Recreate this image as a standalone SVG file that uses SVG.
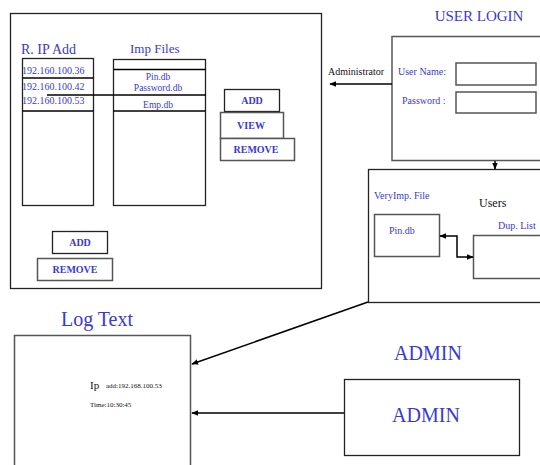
<svg xmlns="http://www.w3.org/2000/svg" width="540" height="465" viewBox="0 0 540 465">
<defs>
<marker id="ah" viewBox="0 0 10 10" refX="9" refY="5" markerWidth="7" markerHeight="7" orient="auto-start-reverse" markerUnits="userSpaceOnUse">
<path d="M0,1 L10,5 L0,9 z" fill="#000"/>
</marker>
<style>
.box{fill:#fff;stroke:#222;stroke-width:1.3}
.gbox{fill:#fff;stroke:#555;stroke-width:1.5}
.b{font-family:"Liberation Serif",serif;fill:#3a3ad0}
.k{font-family:"Liberation Serif",serif;fill:#111}
.btn{font-family:"Liberation Serif",serif;fill:#3a3ad0;font-weight:bold;font-size:10px;text-anchor:middle}
.ln{stroke:#000;stroke-width:1.5;fill:none}
</style>
</defs>
<rect width="540" height="465" fill="#fff"/>

<g id="main">
<rect class="box" x="10.5" y="13.5" width="311" height="275"/>
<text class="b" x="21" y="54" font-size="14">R. IP Add</text>
<text class="b" x="130" y="53" font-size="13">Imp Files</text>
</g>

<g id="ip-list">
<rect class="box" x="22.5" y="58.5" width="71" height="147"/>
<line class="ln" x1="22.5" y1="78" x2="93.5" y2="78" stroke-width="1.2"/>
<line class="ln" x1="22.5" y1="111" x2="93.5" y2="111" stroke-width="1.2"/>
<text class="b" x="22" y="74" font-size="10">192.160.100.36</text>
<text class="b" x="22" y="90" font-size="10">192.160.100.42</text>
<text class="b" x="22" y="104" font-size="10">192.160.100.53</text>
</g>

<g id="imp-files">
<rect class="box" x="113.5" y="59.5" width="92" height="146"/>
<line class="ln" x1="113.5" y1="69.5" x2="205.5" y2="69.5" stroke-width="1.2"/>
<line class="ln" x1="113.5" y1="111" x2="205.5" y2="111" stroke-width="1.2"/>
<text class="b" x="158" y="80" font-size="9.5" text-anchor="middle">Pin.db</text>
<text class="b" x="158" y="91" font-size="9.5" text-anchor="middle">Password.db</text>
<text class="b" x="158" y="108" font-size="9.5" text-anchor="middle">Emp.db</text>
</g>

<g id="btn-add1"><rect class="box" x="224.5" y="89.5" width="55" height="22"/><text class="btn" x="252" y="104">ADD</text></g>
<g id="btn-view"><rect class="gbox" x="220.5" y="112.5" width="63" height="26"/><text class="btn" x="251" y="129">VIEW</text></g>
<g id="btn-remove1"><rect class="gbox" x="220.5" y="138.5" width="74" height="22"/><text class="btn" x="256" y="153">REMOVE</text></g>
<g id="btn-add2"><rect class="box" x="52.5" y="231.5" width="55" height="22"/><text class="btn" x="80" y="246">ADD</text></g>
<g id="btn-remove2"><rect class="gbox" x="37.5" y="258.5" width="75" height="22"/><text class="btn" x="75" y="273">REMOVE</text></g>

<g id="user-login">
<text class="b" x="479" y="21" font-size="15" text-anchor="middle">USER LOGIN</text>
<rect class="gbox" x="392" y="36.5" width="160" height="124"/>
<text class="b" x="398" y="75" font-size="10">User Name:</text>
<text class="b" x="402" y="104" font-size="10">Password :</text>
<rect class="gbox" x="456" y="63" width="80" height="22"/>
<rect class="gbox" x="456" y="92" width="80" height="21"/>
</g>

<g id="users">
<rect class="box" x="368.5" y="169.5" width="180" height="133"/>
<text class="b" x="374" y="199" font-size="10">VeryImp. File</text>
<text class="k" x="479" y="207" font-size="12">Users</text>
<text class="b" x="498" y="229" font-size="10">Dup. List</text>
</g>
<g id="pin-db"><rect class="gbox" x="374.5" y="214.5" width="65" height="42"/><text class="b" x="389" y="234" font-size="10">Pin.db</text></g>
<g id="dup-list"><rect class="gbox" x="473.5" y="235.5" width="80" height="43"/></g>

<g id="log-text">
<text class="b" x="97" y="326" font-size="20" text-anchor="middle">Log Text</text>
<rect class="gbox" x="14.5" y="335.5" width="176" height="140"/>
<text class="k" x="90" y="389" font-size="11">Ip</text>
<text class="k" x="106" y="388" font-size="7">add:192.168.100.53</text>
<text class="k" x="90" y="407" font-size="7">Time:10:30:45</text>
</g>

<g id="admin">
<text class="b" x="428" y="360" font-size="20" text-anchor="middle">ADMIN</text>
<rect class="box" x="344.5" y="379.5" width="175" height="76"/>
<text class="b" x="426" y="422" font-size="20" text-anchor="middle">ADMIN</text>
</g>

<g id="connectors">
<line class="ln" x1="47" y1="95" x2="206" y2="95" stroke="#555" stroke-width="1.3"/>
<line class="ln" x1="392" y1="84" x2="330" y2="84" marker-end="url(#ah)"/>
<text class="k" x="328" y="75" font-size="10">Administrator</text>
<line class="ln" x1="495" y1="161" x2="495" y2="169" marker-end="url(#ah)"/>
<polyline class="ln" points="440,236 457,236 457,257 473,257" marker-start="url(#ah)" marker-end="url(#ah)"/>
<line class="ln" x1="368" y1="302" x2="192" y2="364" marker-end="url(#ah)"/>
<line class="ln" x1="344" y1="413" x2="192" y2="413" marker-end="url(#ah)"/>
</g>
</svg>
